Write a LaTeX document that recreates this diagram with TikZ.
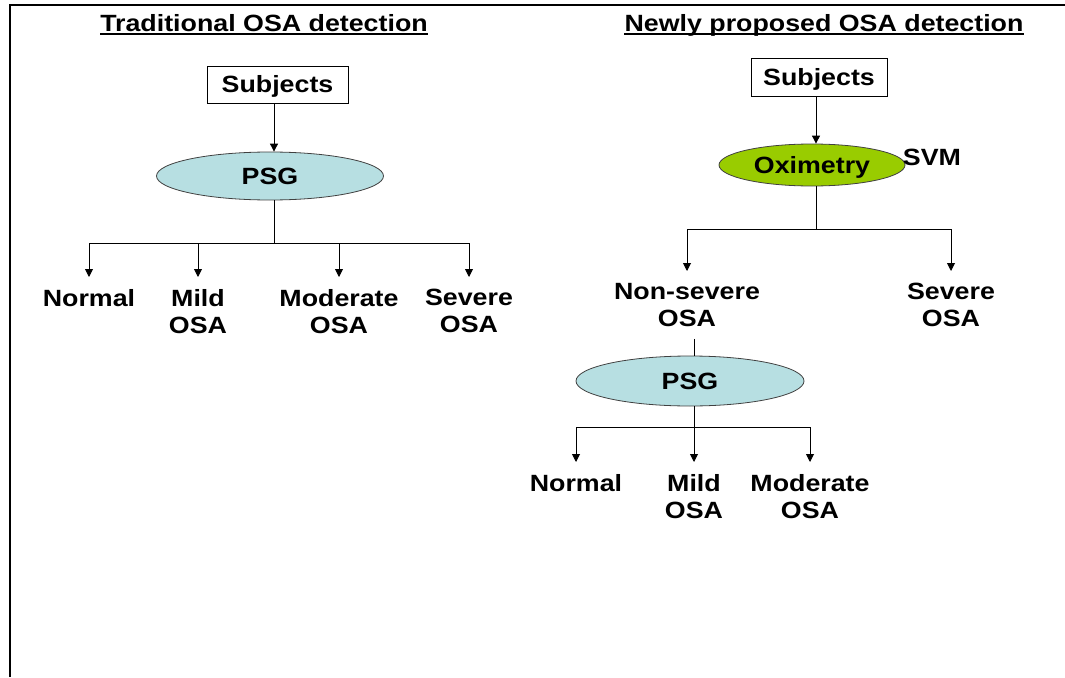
\documentclass[tikz,border=0pt]{standalone}
\usepackage{fontspec}
\setmainfont{Liberation Sans}[FakeStretch=1.14]
\usetikzlibrary{arrows.meta,positioning,shapes.geometric}
\definecolor{PaleCyan}{HTML}{B7DFE2}
\definecolor{Lime}{HTML}{99CC00}
\tikzset{
  big/.style={font=\fontsize{23.5}{27}\selectfont\bfseries},
  title/.style={big,inner sep=0pt,text depth=0pt,anchor=base},
  box/.style={big,draw,line width=0.9pt,inner sep=0pt,text height=16.8pt,text depth=0pt},
  oval/.style={big,ellipse,draw=black!75,line width=0.8pt,inner sep=0pt,text height=16.8pt,text depth=0pt},
  leaf/.style={big,align=center,inner xsep=0pt,inner ysep=12pt,anchor=north},
  arr/.style={-{Triangle[length=8pt,width=8pt]},line width=0.9pt},
  link/.style={line width=0.9pt}
}
\begin{document}
\begin{tikzpicture}[x=1pt,y=-1pt]
  \useasboundingbox (0,0) rectangle (1065,677);
  \draw[line width=1.3pt] (10,677) -- (10,5) -- (1065,5);
  \node[title] (titA) at (264,31.5) {Traditional OSA detection};
  \node[title] (titB) at (824,31.5) {Newly proposed OSA detection};
  \foreach \t in {titA,titB} {
    \draw[line width=1.2pt] ([yshift=-2.5pt]\t.base west) -- ([yshift=-2.5pt]\t.base east);
  }
  \node[box,minimum width=141,minimum height=37] (subjA) at (277.5,84.5) {Subjects};
  \node[oval,fill=PaleCyan,minimum width=227,minimum height=48] (psgA) at (270,176) {PSG};
  \coordinate (forkA) at (274,243);
  \node[leaf] (normA) at (89,277) {Normal};
  \node[leaf] (mildA) at (198,277) {Mild\\OSA};
  \node[leaf] (modA) at (339,277) {Moderate\\OSA};
  \node[leaf] (sevA) at (469,277) {Severe\\OSA};
  \draw[arr] (subjA.south -| forkA) -- (psgA.north -| forkA);
  \draw[link] (psgA.south -| forkA) -- (forkA);
  \foreach \n in {normA,mildA,modA,sevA} {
    \draw[arr] (forkA) -| (\n.north);
  }
  \node[box,minimum width=136,minimum height=38] (subjB) at (819,77) {Subjects};
  \node[oval,fill=Lime,minimum width=186,minimum height=42] (oxiB) at (812,165) {Oximetry};
  \node[big] (svmB) at (932,157) {SVM};
  \coordinate (forkB) at (816,229);
  \node[leaf] (nonsB) at (687,271) {Non-severe\\OSA};
  \node[leaf] (sevB) at (951,271) {Severe\\OSA};
  \draw[arr] (subjB.south -| forkB) -- (oxiB.north -| forkB);
  \draw[link] (oxiB.south -| forkB) -- (forkB);
  \foreach \n in {nonsB,sevB} {
    \draw[arr] (forkB) -| (\n.north);
  }
  \node[oval,fill=PaleCyan,minimum width=228,minimum height=50] (psgB) at (690,381) {PSG};
  \coordinate (forkC) at (694,427);
  \node[leaf] (normB) at (576,462) {Normal};
  \node[leaf] (mildB) at (694,462) {Mild\\OSA};
  \node[leaf] (modB) at (810,462) {Moderate\\OSA};
  \draw[link] (nonsB.south -| forkC) -- (psgB.north -| forkC);
  \draw[link] (psgB.south -| forkC) -- (forkC);
  \foreach \n in {normB,mildB,modB} {
    \draw[arr] (forkC) -| (\n.north);
  }
\end{tikzpicture}
\end{document}
